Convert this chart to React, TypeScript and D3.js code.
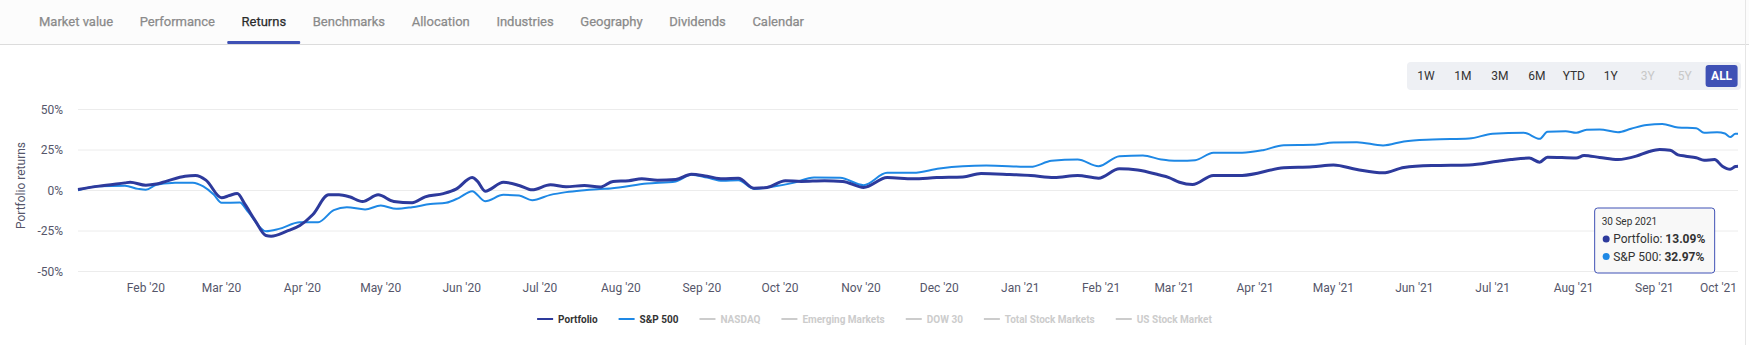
import React from 'react';
import * as d3 from 'd3';

const tabLabels = ['Market value', 'Performance', 'Returns', 'Benchmarks', 'Allocation', 'Industries', 'Geography', 'Dividends', 'Calendar'];
const activeTab = 'Returns';
const rangeButtons = ['1W', '1M', '3M', '6M', 'YTD', '1Y', '3Y', '5Y', 'ALL'];
const disabledButtons = ['3Y', '5Y'];
const selectedButton = 'ALL';
const yTicks = [-50, -25, 0, 25, 50];
const yTitle = 'Portfolio returns';
const legendItems = ['Portfolio', 'S&P 500', 'NASDAQ', 'Emerging Markets', 'DOW 30', 'Total Stock Markets', 'US Stock Market'];
const xDomain = ['2020-01-06', '2021-10-03'];
const tooltipDate = '2021-09-30';

const portfolioDates = [
  '2020-01-06', '2020-01-14', '2020-01-24', '2020-01-26', '2020-02-01', '2020-02-05', '2020-02-09', '2020-02-16', '2020-02-20', '2020-02-24',
  '2020-03-01', '2020-03-04', '2020-03-07', '2020-03-10', '2020-03-14', '2020-03-18', '2020-03-20', '2020-03-26', '2020-03-31', '2020-04-05',
  '2020-04-11', '2020-04-15', '2020-04-19', '2020-04-24', '2020-04-30', '2020-05-06', '2020-05-13', '2020-05-18', '2020-05-25', '2020-05-30',
  '2020-06-05', '2020-06-07', '2020-06-10', '2020-06-17', '2020-06-23', '2020-06-28', '2020-07-05', '2020-07-11', '2020-07-18', '2020-07-24',
  '2020-07-29', '2020-08-04', '2020-08-09', '2020-08-15', '2020-08-22', '2020-08-28', '2020-09-03', '2020-09-09', '2020-09-15', '2020-09-21',
  '2020-09-26', '2020-10-03', '2020-10-09', '2020-10-18', '2020-10-25', '2020-11-02', '2020-11-11', '2020-11-21', '2020-11-30', '2020-12-10',
  '2020-12-17', '2020-12-28', '2021-01-05', '2021-01-14', '2021-01-23', '2021-01-31', '2021-02-08', '2021-02-15', '2021-02-23', '2021-02-27',
  '2021-03-03', '2021-03-08', '2021-03-16', '2021-03-27', '2021-04-12', '2021-04-23', '2021-05-01', '2021-05-10', '2021-05-20', '2021-05-28',
  '2021-06-08', '2021-06-22', '2021-07-03', '2021-07-08', '2021-07-15', '2021-07-19', '2021-07-22', '2021-08-02', '2021-08-05', '2021-08-11',
  '2021-08-18', '2021-08-25', '2021-08-30', '2021-09-03', '2021-09-07', '2021-09-10', '2021-09-13', '2021-09-17', '2021-09-20', '2021-09-24',
  '2021-09-27', '2021-09-30', '2021-10-02', '2021-10-03',
];
const portfolioValues = [
  0.6, 2.7, 4.7, 5.1, 3.3, 4.0, 5.8, 8.8, 9.2, 6.4,
  -4.5, -3.1, -1.9, -8.6, -18.9, -27.8, -28.2, -25.1, -21.6, -14.8,
  -2.7, -2.7, -3.9, -6.8, -2.7, -6.8, -7.6, -3.9, -1.9, 1.0,
  8.0, 5.8, -0.4, 5.1, 3.1, 0.4, 3.5, 2.3, 3.1, 2.1,
  5.6, 6.0, 7.2, 6.4, 6.8, 10.1, 8.8, 7.2, 7.6, 1.4,
  1.9, 6.0, 5.6, 6.0, 5.6, 1.9, 8.0, 7.2, 8.0, 8.4,
  10.5, 9.9, 9.3, 8.0, 9.3, 7.6, 13.4, 12.6, 9.7, 8.0,
  5.1, 3.7, 9.3, 9.3, 14.0, 14.6, 15.8, 13.0, 10.9, 14.2,
  15.4, 15.8, 18.1, 19.1, 20.0, 17.5, 20.6, 20.0, 21.6, 20.4,
  19.1, 21.2, 24.1, 25.3, 24.9, 22.0, 21.2, 20.2, 18.7, 19.1,
  15.0, 13.09, 14.8, 15.0,
];

const sp500Dates = [
  '2020-01-06', '2020-01-14', '2020-01-24', '2020-01-29', '2020-02-01', '2020-02-05', '2020-02-11', '2020-02-19', '2020-02-23', '2020-02-27',
  '2020-03-01', '2020-03-08', '2020-03-11', '2020-03-18', '2020-03-23', '2020-03-31', '2020-04-07', '2020-04-13', '2020-04-18', '2020-04-25',
  '2020-05-01', '2020-05-07', '2020-05-13', '2020-05-20', '2020-05-26', '2020-05-31', '2020-06-05', '2020-06-10', '2020-06-17', '2020-06-23',
  '2020-06-28', '2020-07-05', '2020-07-11', '2020-07-18', '2020-07-24', '2020-07-28', '2020-08-11', '2020-08-22', '2020-08-28', '2020-09-03',
  '2020-09-09', '2020-09-15', '2020-09-21', '2020-09-28', '2020-10-06', '2020-10-14', '2020-10-24', '2020-11-02', '2020-11-11', '2020-11-21',
  '2020-12-01', '2020-12-10', '2020-12-19', '2021-01-05', '2021-01-13', '2021-01-23', '2021-01-31', '2021-02-08', '2021-02-17', '2021-02-24',
  '2021-02-27', '2021-03-03', '2021-03-09', '2021-03-16', '2021-03-27', '2021-04-04', '2021-04-12', '2021-04-23', '2021-05-01', '2021-05-10',
  '2021-05-20', '2021-05-28', '2021-06-08', '2021-06-22', '2021-07-01', '2021-07-13', '2021-07-19', '2021-07-22', '2021-07-29', '2021-08-02',
  '2021-08-06', '2021-08-11', '2021-08-18', '2021-08-23', '2021-08-29', '2021-09-04', '2021-09-10', '2021-09-17', '2021-09-20', '2021-09-25',
  '2021-09-28', '2021-09-30', '2021-10-02', '2021-10-03',
];
const sp500Values = [
  0.2, 2.7, 2.9, 1.0, 0.4, 3.5, 4.7, 4.8, 2.5, -2.5,
  -7.6, -7.4, -12.8, -25.1, -23.7, -19.6, -19.6, -12.1, -10.3, -11.7,
  -9.3, -11.3, -10.3, -8.4, -7.6, -4.5, -0.4, -6.6, -2.7, -3.1,
  -6.0, -2.7, -1.0, 0.2, 1.0, 1.3, 4.3, 5.6, 9.7, 8.0,
  6.0, 6.4, 1.0, 2.3, 4.7, 8.0, 7.8, 3.3, 10.9, 10.9,
  13.6, 15.0, 15.4, 14.6, 18.3, 19.1, 15.0, 21.2, 21.6, 19.1,
  18.5, 18.3, 18.7, 23.3, 23.3, 24.9, 28.0, 28.2, 29.6, 29.8,
  27.8, 30.3, 31.5, 32.1, 35.0, 35.6, 31.9, 36.2, 36.6, 35.6,
  37.5, 37.7, 36.0, 38.1, 40.5, 41.0, 38.9, 38.5, 35.6, 36.0,
  35.2, 32.97, 35.0, 35.0,
];

const FONT = 'Roboto, "Noto Sans", Arial, sans-serif';
const PORTFOLIO_COLOR = '#2d3a9c';
const SP_COLOR = '#1e88e5';
const INDIGO = '#3f51b5';

const parse = d3.timeParse('%Y-%m-%d');

function measure(text: string, font: string): number {
  try {
    const c = document.createElement('canvas');
    const ctx = c.getContext('2d');
    if (ctx) {
      ctx.font = font;
      return ctx.measureText(text).width;
    }
  } catch (e) {}
  return text.length * 6;
}

export default function App() {
  const W = 1749;
  const H = 345;
  const left = 78;
  const right = 1738;
  const top = 109.5;
  const bottom = 271.5;

  const x = d3.scaleTime().domain([parse(xDomain[0])!, parse(xDomain[1])!]).range([left, right]);
  const y = d3.scaleLinear().domain([-50, 50]).range([bottom, top]);

  const pData = portfolioDates.map((d, i) => ({ date: parse(d)!, v: portfolioValues[i] }));
  const sData = sp500Dates.map((d, i) => ({ date: parse(d)!, v: sp500Values[i] }));

  const line = d3
    .line<{ date: Date; v: number }>()
    .x((d) => x(d.date))
    .y((d) => y(d.v))
    .curve(d3.curveMonotoneX);

  const monthTicks = d3.timeMonth.range(d3.timeMonth.ceil(x.domain()[0]), x.domain()[1]);
  const fmt = d3.timeFormat("%b '%y");

  // Tabs layout
  const tabFont = `400 13px ${FONT}`;
  let tx = 39;
  const tabs = tabLabels.map((t) => {
    const w = measure(t, tabFont);
    const item = { label: t, textX: tx, w };
    tx += w + 26.6;
    return item;
  });

  // Legend layout
  const legFont = `bold 10px ${FONT}`;
  const legWidths = legendItems.map((t) => 21 + measure(t, legFont));
  const legTotal = d3.sum(legWidths) + 21 * (legendItems.length - 1);
  let lx = W / 2 - legTotal / 2;
  const legend = legendItems.map((t, i) => {
    const item = { label: t, x: lx, active: i < 2, color: i === 0 ? PORTFOLIO_COLOR : i === 1 ? SP_COLOR : '#cccccc' };
    lx += legWidths[i] + 21;
    return item;
  });

  // Range selector
  const btnCenter0 = 1426;
  const btnStep = 36.95;

  // Tooltip
  const tDate = parse(tooltipDate)!;
  const pIdx = portfolioDates.indexOf(tooltipDate);
  const sIdx = sp500Dates.indexOf(tooltipDate);
  const tipX = x(tDate) - 15 - 121;
  const tipY = 207.5;
  const tipFmt = d3.timeFormat('%d %b %Y');

  return (
    <svg width={W} height={H} style={{ position: 'absolute', left: 0, top: 0, fontFamily: FONT }}>
      <rect x={0} y={0} width={W} height={H} fill="#ffffff" />
      <rect x={0} y={0} width={W} height={44} fill="#fcfcfc" />
      <line x1={0} x2={W} y1={44.5} y2={44.5} stroke="#dcdcdc" />
      <line x1={1745.5} x2={1745.5} y1={0} y2={H} stroke="#e6e6e6" />

      {tabs.map((t) => (
        <text
          key={t.label}
          x={t.textX}
          y={21.7}
          dy="0.35em"
          fontSize={13}
          fontWeight={400}
          fill={t.label === activeTab ? '#2b2b2b' : '#8a8a8a'}
          stroke={t.label === activeTab ? '#2b2b2b' : '#8a8a8a'}
          strokeWidth={0.25}
        >
          {t.label}
        </text>
      ))}
      {tabs
        .filter((t) => t.label === activeTab)
        .map((t) => (
          <rect key="ul" x={t.textX - 14.3} y={41} width={t.w + 28.3} height={3} rx={1} fill={INDIGO} />
        ))}

      {/* range selector */}
      <rect x={1407} y={62} width={334} height={28} rx={4} fill="#eef0f4" />
      {rangeButtons.map((b, i) => {
        const cx = btnCenter0 + i * btnStep;
        const sel = b === selectedButton;
        const dis = disabledButtons.includes(b);
        return (
          <g key={b}>
            {sel && <rect x={cx - 16} y={65} width={32} height={22} rx={3} fill={INDIGO} />}
            <text
              x={cx}
              y={76}
              dy="0.35em"
              textAnchor="middle"
              fontSize={12}
              fontWeight={sel ? 700 : 400}
              fill={sel ? '#ffffff' : dis ? '#c8c8c8' : '#333333'}
            >
              {b}
            </text>
          </g>
        );
      })}

      {/* grid */}
      {yTicks.map((t) => (
        <g key={t}>
          <line x1={left} x2={right} y1={y(t)} y2={y(t)} stroke="#ececec" strokeWidth={1} />
          <text x={63} y={y(t)} dy="0.35em" textAnchor="end" fontSize={12} fill="#55566a">
            {t + '%'}
          </text>
        </g>
      ))}
      <text
        transform={`translate(${20.7},${185.5}) rotate(-90)`}
        textAnchor="middle"
        dy="0.35em"
        fontSize={12}
        fill="#55566a"
      >
        {yTitle}
      </text>

      {monthTicks.map((m) => {
        const label = fmt(m);
        const px = x(m);
        const half = measure(label, `12px ${FONT}`) / 2;
        const overflow = px + half > right;
        return (
          <text
            key={label}
            x={overflow ? right - 1 : px}
            y={288}
            dy="0.35em"
            textAnchor={overflow ? 'end' : 'middle'}
            fontSize={12}
            fill="#55566a"
          >
            {label}
          </text>
        );
      })}

      <path d={line(sData) || ''} fill="none" stroke={SP_COLOR} strokeWidth={2} strokeLinejoin="round" />
      <path d={line(pData) || ''} fill="none" stroke={PORTFOLIO_COLOR} strokeWidth={3} strokeLinejoin="round" />

      {/* legend */}
      {legend.map((l) => (
        <g key={l.label}>
          <line x1={l.x} x2={l.x + 16} y1={319} y2={319} stroke={l.color} strokeWidth={2} />
          <text x={l.x + 21} y={319} dy="0.35em" fontSize={10} fontWeight={700} fill={l.active ? '#333333' : '#cccccc'}>
            {l.label}
          </text>
        </g>
      ))}

      {/* tooltip */}
      <g transform={`translate(${tipX},${tipY})`}>
        <rect x={0.5} y={0.5} width={120} height={65} rx={3} fill="rgba(247,247,247,0.92)" stroke={INDIGO} strokeWidth={1} />
        <text x={7.5} y={17} fontSize={10} fill="#333333">
          {tipFmt(tDate).replace(/^0/, '')}
        </text>
        <circle cx={12} cy={31.5} r={3.5} fill={PORTFOLIO_COLOR} />
        <text x={19} y={35.5} fontSize={12} fill="#333333">
          Portfolio: <tspan fontWeight={700}>{portfolioValues[pIdx].toFixed(2)}%</tspan>
        </text>
        <circle cx={12} cy={49} r={3.5} fill={SP_COLOR} />
        <text x={19} y={53} fontSize={12} fill="#333333">
          S&amp;P 500: <tspan fontWeight={700}>{sp500Values[sIdx].toFixed(2)}%</tspan>
        </text>
      </g>
    </svg>
  );
}
